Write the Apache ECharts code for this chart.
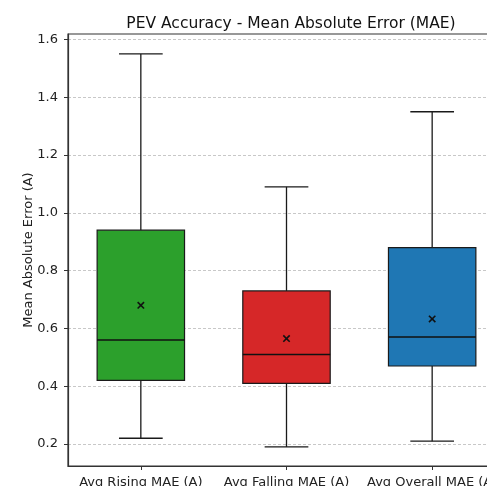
<!DOCTYPE html>
<html>
<head>
<meta charset="utf-8">
<script src="https://cdn.jsdelivr.net/npm/echarts@6/dist/echarts.min.js"></script>
<style>
html,body{margin:0;padding:0;background:#fff;overflow:hidden;width:487px;height:486px;}
#chart{width:530px;height:486px;}
</style>
</head>
<body>
<div id="chart"></div>
<script>
// Data
var categories = ['Avg Rising MAE (A)', 'Avg Falling MAE (A)', 'Avg Overall MAE (A)'];
var whiskerLow = [0.22, 0.19, 0.21];
var q1 = [0.42, 0.41, 0.47];
var median = [0.56, 0.51, 0.57];
var q3 = [0.94, 0.73, 0.88];
var whiskerHigh = [1.55, 1.09, 1.35];
var means = [0.68, 0.565, 0.633];
var boxColors = ['#2ca02c', '#d62728', '#1f77b4'];
var yTicks = [0.2, 0.4, 0.6, 0.8, 1.0, 1.2, 1.4, 1.6];

var FONT = 'DejaVu Sans';

var data = categories.map(function (c, i) {
  return [i, whiskerLow[i], q1[i], median[i], q3[i], whiskerHigh[i], means[i]];
});

function renderItem(params, api) {
  var idx = api.value(0);
  var band = api.size([1, 0])[0];
  var boxW = band * 0.6;
  var capW = boxW * 0.5;
  var pLow = api.coord([idx, api.value(1)]);
  var pQ1 = api.coord([idx, api.value(2)]);
  var pMed = api.coord([idx, api.value(3)]);
  var pQ3 = api.coord([idx, api.value(4)]);
  var pHigh = api.coord([idx, api.value(5)]);
  var pMean = api.coord([idx, api.value(6)]);
  var cx = pQ1[0];
  var edge = '#1a1a1a';
  var s = 3.2;
  return {
    type: 'group',
    children: [
      { type: 'line', shape: { x1: cx, y1: pQ3[1], x2: cx, y2: pHigh[1] }, style: { stroke: edge, lineWidth: 1.3 } },
      { type: 'line', shape: { x1: cx, y1: pQ1[1], x2: cx, y2: pLow[1] }, style: { stroke: edge, lineWidth: 1.3 } },
      { type: 'line', shape: { x1: cx - capW / 2, y1: pHigh[1], x2: cx + capW / 2, y2: pHigh[1] }, style: { stroke: edge, lineWidth: 1.3 } },
      { type: 'line', shape: { x1: cx - capW / 2, y1: pLow[1], x2: cx + capW / 2, y2: pLow[1] }, style: { stroke: edge, lineWidth: 1.3 } },
      { type: 'rect', shape: { x: cx - boxW / 2, y: pQ3[1], width: boxW, height: pQ1[1] - pQ3[1] },
        style: { fill: boxColors[idx], stroke: edge, lineWidth: 1.2 } },
      { type: 'line', shape: { x1: cx - boxW / 2, y1: pMed[1], x2: cx + boxW / 2, y2: pMed[1] }, style: { stroke: '#111', lineWidth: 1.5 } },
      { type: 'line', shape: { x1: pMean[0] - s, y1: pMean[1] - s, x2: pMean[0] + s, y2: pMean[1] + s }, style: { stroke: '#111', lineWidth: 1.6 } },
      { type: 'line', shape: { x1: pMean[0] - s, y1: pMean[1] + s, x2: pMean[0] + s, y2: pMean[1] - s }, style: { stroke: '#111', lineWidth: 1.6 } }
    ]
  };
}

var chart = echarts.init(document.getElementById('chart'), null, { renderer: 'canvas' });
chart.setOption({
  animation: false,
  backgroundColor: '#fff',
  title: {
    text: 'PEV Accuracy - Mean Absolute Error (MAE)',
    left: 286,
    top: 11,
    textAlign: 'center',
    textStyle: { fontFamily: FONT, fontSize: 15.5, fontWeight: 'normal', color: '#111' }
  },
  grid: {
    left: 68, top: 34, width: 437, height: 432,
    show: true, borderColor: '#333', borderWidth: 1.2, backgroundColor: 'transparent',
    containLabel: false,
    outerBoundsMode: 'none'
  },
  xAxis: {
    type: 'category',
    data: categories,
    boundaryGap: true,
    axisLine: { show: true, lineStyle: { color: '#333', width: 1.2 } },
    axisTick: { show: true, alignWithLabel: true, length: 4, lineStyle: { color: '#333' } },
    axisLabel: { fontFamily: FONT, fontSize: 13, color: '#222', margin: 10, interval: 0 },
    splitLine: { show: false }
  },
  yAxis: {
    type: 'value',
    min: 0.124,
    max: 1.619,
    name: 'Mean Absolute Error (A)',
    nameLocation: 'middle',
    nameGap: 33,
    nameMoveOverlap: false,
    nameTextStyle: { fontFamily: FONT, fontSize: 13, color: '#222' },
    axisLine: { show: true, lineStyle: { color: '#333', width: 1.2 } },
    axisTick: { show: true, length: 4, lineStyle: { color: '#333' }, customValues: yTicks },
    axisLabel: { fontFamily: FONT, fontSize: 13, color: '#222', margin: 10, customValues: yTicks,
      formatter: function (v) { return v.toFixed(1); } },
    splitLine: { show: true, lineStyle: { color: '#c8c8c8', type: [3, 2], width: 1 } }
  },
  series: [{
    type: 'custom',
    renderItem: renderItem,
    encode: { x: 0, y: [1, 2, 3, 4, 5, 6] },
    data: data,
    clip: false
  }]
});
</script>
</body>
</html>
